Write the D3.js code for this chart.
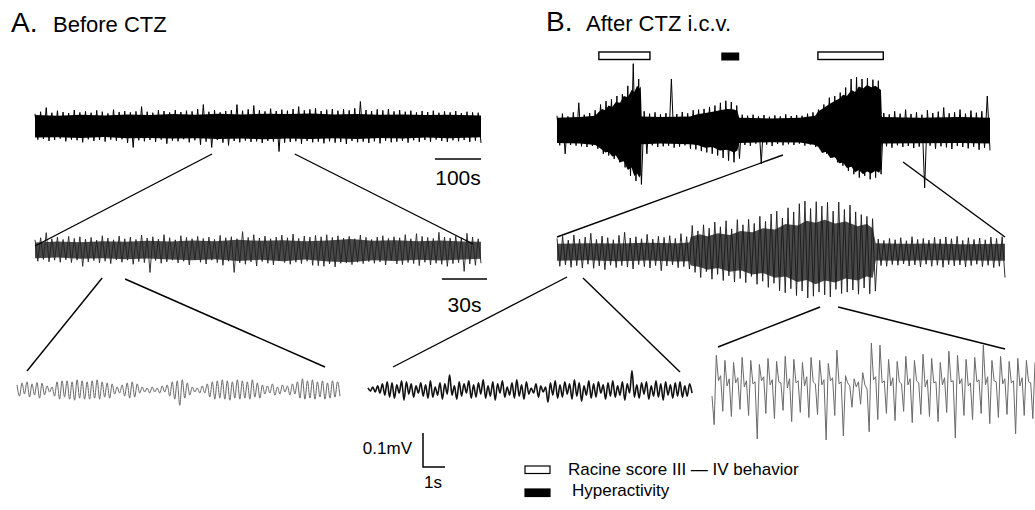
<!DOCTYPE html>
<meta charset="utf-8">
<title>EEG before and after CTZ</title>
<style>
  html, body { margin: 0; background: #fff; }
  svg { display: block; font-family: "Liberation Sans", Arial, sans-serif; }
</style>
<body>
<script src="https://d3js.org/d3.v7.min.js"></script>
<script>

// ---- data: EEG traces, microvolts, alternating peaks / troughs ----
var a1Trace = [
  36,-40, 42,-38, 54,-44, 39,-41, 45,-37,
  41,-45, 38,-40, 47,-42, 40,-48, 43,-39,
  39,-44, 46,-41, 42,-46, 37,-40, 48,-43,
  41,-39, 44,-50, 40,-63, 43,-42, 57,-45,
  42,-41, 39,-47, 46,-40, 44,-52, 40,-43,
  47,-45, 41,-39, 45,-48, 43,-42, 50,-55,
  63,-46, 42,-63, 46,-41, 40,-49, 44,-57,
  47,-44, 63,-48, 45,-43, 49,-47, 60,-45,
  46,-50, 43,-44, 51,-46, 44,-75, 48,-49,
  45,-47, 50,-45, 57,-52, 46,-44, 49,-48,
  52,-46, 44,-51, 48,-45, 50,-49, 45,-47,
  49,-53, 46,-44, 52,-48, 72,-46, 47,-50,
  44,-45, 49,-51, 46,-43, 50,-48, 43,-46,
  47,-44, 42,-49, 45,-42, 40,-47, 44,-41,
  41,-46, 45,-40, 39,-44, 43,-47, 40,-42,
  44,-45, 38,-41, 42,-47, 40,-43, 39,-50
];

var a2Trace = [
  30,-33, 36,-28, 51,-35, 33,-30, 38,-36,
  31,-29, 40,-37, 34,-30, 39,-48, 32,-35,
  37,-31, 29,-38, 42,-33, 35,-40, 30,-29,
  41,-36, 33,-30, 38,-42, 31,-34, 44,-37,
  35,-66, 39,-31, 32,-39, 45,-35, 36,-30,
  30,-38, 42,-33, 37,-44, 33,-29, 40,-36,
  34,-41, 38,-30, 31,-37, 43,-45, 36,-33,
  39,-66, 33,-38, 54,-42, 37,-35, 45,-47,
  35,-34, 41,-39, 33,-44, 38,-31, 44,-37,
  36,-42, 47,-36, 34,-40, 41,-33, 38,-45,
  43,-46, 39,-48, 45,-41, 37,-50, 42,-39,
  35,-38, 40,-43, 33,-36, 44,-40, 37,-34,
  31,-39, 38,-35, 42,-44, 34,-30, 39,-41,
  36,-43, 45,-37, 33,-40, 48,-46, 40,-36,
  37,-44, 34,-39, 52,-42, 38,-48, 35,-40,
  41,-37, 36,-63, 49,-41, 38,-45, 33,-39
];

var a3Trace = [
  15,-18, 21,-12, 24,-21, 18,-15, 22,-24,
  20,-14, 12,-6, 9,-18, 24,-27, 27,-21,
  27,-27, 24,-30, 30,-24, 27,-27, 24,-27,
  27,-24, 30,-27, 24,-21, 21,-24, 18,-12,
  9,-9, 15,-18, 21,-24, 24,-21, 18,-9,
  9,-6, 6,-9, 9,-6, 6,-9, 12,-6,
  15,-18, 24,-27, 27,-45, 30,-24, 21,-15,
  9,-6, 6,-9, 12,-9, 18,-21, 24,-27,
  27,-24, 30,-27, 27,-30, 24,-24, 30,-27,
  27,-24, 24,-27, 30,-21, 21,-24, 15,-12,
  12,-9, 18,-15, 9,-12, 15,-6, 12,-15,
  18,-12, 24,-24, 33,-27, 27,-24, 30,-27,
  24,-21, 27,-27, 21,-24, 27,-21, 24,-18
];

var b1Trace = [
  42,-45, 48,-70, 40,-44, 52,-46, 80,-48,
  45,-50, 50,-47, 58,-55, 75,-70, 85,-75,
  90,-85, 100,-95, 105,-110, 130,-135, 195,-150,
  150,-160, 55,-70, 48,-45, 52,-50, 46,-48,
  50,-46, 150,-52, 47,-49, 53,-45, 49,-55,
  58,-57, 60,-62, 62,-66, 68,-70, 72,-75,
  80,-82, 86,-90, 82,-95, 72,-84, 45,-44,
  42,-46, 45,-40, 40,-100, 44,-43, 39,-47,
  43,-41, 40,-45, 46,-42, 41,-44, 44,-40,
  42,-46, 48,-43, 52,-50, 60,-55, 75,-70,
  95,-80, 100,-95, 110,-105, 125,-120, 150,-130,
  155,-140, 150,-135, 152,-145, 148,-140, 145,-130,
  50,-48, 46,-52, 55,-45, 48,-50, 60,-47,
  47,-53, 52,-49, 45,-170, 58,-46, 50,-55,
  54,-48, 66,-51, 49,-56, 52,-47, 60,-50,
  48,-54, 57,-49, 51,-58, 55,-52, 100,-60
];

var b2Trace = [
  40,-42, 46,-38, 35,-45, 50,-40, 38,-47,
  44,-36, 55,-48, 37,-41, 47,-52, 42,-39,
  36,-46, 49,-40, 58,-44, 41,-50, 45,-37,
  39,-43, 52,-47, 38,-40, 46,-55, 43,-41,
  48,-38, 40,-46, 54,-43, 45,-50, 78,-60,
  62,-75, 80,-58, 70,-80, 88,-66, 74,-84,
  92,-70, 68,-88, 95,-78, 80,-90, 96,-72,
  84,-95, 105,-86, 90,-104, 112,-92, 120,-114,
  100,-120, 130,-108, 118,-128, 142,-115, 150,-135,
  128,-130, 148,-118, 135,-126, 146,-132, 120,-110,
  147,-122, 125,-118, 138,-112, 118,-124, 110,-106,
  105,-123, 98,-115, 38,-40, 34,-42, 40,-37,
  36,-39, 42,-35, 33,-41, 45,-38, 37,-44,
  40,-36, 35,-42, 43,-39, 38,-45, 44,-37,
  39,-41, 46,-38, 34,-44, 42,-40, 37,-36,
  41,-43, 36,-39, 44,-46, 40,-42, 45,-75
];

var bMidTrace = [
  6,-3, 9,-6, 12,-9, 18,-15, 24,-21,
  21,-24, 15,-9, 27,-30, 24,-12, 18,-21,
  12,-9, 21,-18, 15,-24, 27,-21, 9,-15,
  21,-27, 18,-12, 45,-15, 12,-27, 24,-18,
  18,-9, 27,-24, 15,-21, 21,-12, 30,-24,
  12,-18, 24,-30, 18,-9, 27,-21, 9,-15,
  21,-24, 30,-18, 15,-27, 24,-12, 6,-9,
  18,-21, 12,-6, 9,-36, 21,-15, 27,-24,
  15,-21, 24,-12, 18,-27, 30,-18, 21,-33,
  12,-15, 27,-24, 18,-21, 24,-9, 15,-27,
  21,-18, 27,-21, 12,-15, 24,-30, 18,-9,
  57,-21, 15,-24, 21,-12, 24,-27, 12,-18,
  27,-21, 18,-30, 24,-15, 15,-24, 21,-18,
  24,-21, 12,-18, 18,-9
];

// spike-and-wave: peak, shoulder, bump, trough per cycle
var b3Trace = [
  -15, -99,
  105, 30, 45, -60,   90, 15, 36, -75,   84, 24, 39, -54,   99, 12, 30, -72,
  90, 21, 27, -141,   78, 30, 42, -66,   96, 18, 33, -81,   87, 27, 24, -57,
  102, 9, 36, -90,    93, 24, 30, -63,   84, 15, 42, -78,   99, 27, 21, -69,
  90, 18, 33, -144,   81, 30, 39, -72,   120, 21, 27, -132, 45, 24, 15, -48,
  36, 12, 27, -39,    54, 18, 6, -120,   141, 33, 42, -84,  135, 24, 30, -66,
  93, 15, 39, -87,    87, 27, 21, -60,   102, 18, 36, -93,  90, 30, 24, -69,
  108, 12, 33, -75,   96, 24, 27, -90,   84, 18, 39, -63,   117, 27, 30, -138,
  105, 21, 36, -72,   93, 15, 24, -84,   99, 27, 33, -66,   135, 18, 42, -96,
  90, 30, 27, -78,    102, 21, 36, -69,  87, 24, 30, -126,  96, 15, 39, -72,
  90, 27, 24, -81,
  84
];

// dense core of the slow traces: [seconds, upper, lower] in microvolts
var a1Core = [
  [0, 32,-34], [50, 30,-33], [100, 33,-35], [150, 31,-32], [200, 34,-36],
  [250, 32,-35], [300, 35,-37], [350, 33,-36], [400, 36,-38], [450, 34,-37],
  [500, 36,-39], [550, 35,-37], [600, 37,-38], [650, 34,-36], [700, 35,-38],
  [750, 33,-35], [800, 34,-37], [850, 32,-34], [900, 33,-36], [970, 31,-33]
];
var a2Core = [
  [0, 22,-24], [15, 25,-22], [30, 23,-26], [45, 26,-24], [60, 24,-27],
  [75, 27,-25], [90, 25,-28], [105, 28,-30], [120, 26,-27], [135, 30,-32],
  [150, 27,-29], [165, 29,-33], [180, 26,-28], [195, 28,-34], [210, 32,-36],
  [225, 27,-30], [240, 29,-32], [255, 26,-29], [270, 28,-31], [285, 25,-28],
  [297, 24,-26]
];
var b1Core = [
  [0, 36,-38], [50, 38,-40], [83, 42,-44], [90, 52,-50], [98, 62,-58],
  [105, 58,-66], [112, 72,-64], [120, 68,-78], [128, 82,-75], [137, 80,-95],
  [145, 100,-92], [154, 96,-118], [162, 118,-110], [168, 112,-135], [174, 130,-128],
  [179, 122,-140], [182, 128,-132], [184, 40,-42], [224, 38,-40], [289, 40,-42],
  [305, 46,-44], [322, 50,-52], [338, 54,-50], [354, 58,-60], [370, 62,-58],
  [385, 60,-66], [392, 56,-60], [396, 36,-38], [463, 34,-36], [528, 36,-37],
  [561, 42,-44], [568, 55,-50], [576, 62,-68], [585, 70,-64], [594, 78,-82],
  [604, 86,-80], [613, 92,-98], [622, 104,-96], [630, 100,-112], [640, 118,-108],
  [648, 112,-124], [656, 128,-118], [665, 122,-130], [674, 132,-122], [683, 126,-128],
  [692, 130,-120], [700, 122,-126], [704, 118,-115], [706, 38,-40], [789, 36,-39],
  [876, 38,-38], [941, 36,-40]
];
var b2Core = [
  [0, 24,-26], [20, 26,-24], [40, 25,-27], [60, 27,-25], [80, 26,-28],
  [88, 28,-27], [89, 45,-40], [95, 52,-44], [100, 46,-52], [107, 55,-47],
  [115, 50,-58], [122, 62,-54], [130, 58,-66], [137, 70,-62], [145, 66,-76],
  [152, 82,-72], [160, 78,-88], [166, 92,-82], [172, 86,-95], [178, 95,-84],
  [185, 84,-90], [192, 90,-78], [200, 76,-84], [206, 82,-72], [210, 70,-76],
  [212, 26,-25], [230, 24,-26], [250, 25,-24], [270, 23,-25], [298, 24,-26]
];

// seconds covered by each trace
var durA1 = 970, durA2 = 297, durA3 = 14.7;
var durB1 = 941, durB2 = 298, durBMid = 14.7, durB3 = 14.7;

// behaviour epochs on the B overview trace (s)
var racineEpochs = [[91, 202], [567, 709]];
var hyperEpochs = [[357, 396]];

// expanded windows (s, on parent trace)
var zoomA1 = [385, 565], zoomA2 = [44.7, 60];
var zoomB1 = [491, 752], zoomB2mid = [6.7, 17.3], zoomB2spike = [175, 187];

// ---- drawing ----
var W = 1035, H = 510;
var svg = d3.select("body").append("svg")
    .attr("width", W)
    .attr("height", H);

var uvPx = 34 / 100;   // 0.1 mV bar is 34 px tall

function traceScales(t) {
  t.x = d3.scaleLinear().domain([0, t.dur]).range([t.x0, t.x1]);
  t.y = d3.scaleLinear().domain([-100, 100]).range([t.cy + 100 * uvPx, t.cy - 100 * uvPx]);
  return t;
}

function drawCore(t, core, fill) {
  var area = d3.area()
      .x(function(d) { return t.x(d[0]); })
      .y0(function(d) { return t.y(d[2]); })
      .y1(function(d) { return t.y(d[1]); });
  svg.append("path")
      .datum(core)
      .attr("d", area)
      .attr("fill", fill);
}

function drawLine(t) {
  var step = t.dur / (t.data.length - 1);
  var line = d3.line()
      .x(function(d, i) { return t.x(i * step); })
      .y(function(d) { return t.y(d); })
      .curve(t.curve || d3.curveLinear);
  svg.append("path")
      .datum(t.data)
      .attr("d", line)
      .attr("fill", "none")
      .attr("stroke", t.color)
      .attr("stroke-width", t.sw)
      .attr("stroke-linejoin", "round");
}

var A1 = traceScales({data: a1Trace, dur: durA1, x0: 35, x1: 481, cy: 126, color: "#000", sw: 1});
var A2 = traceScales({data: a2Trace, dur: durA2, x0: 35, x1: 481, cy: 250, color: "#222", sw: 0.9});
var A3 = traceScales({data: a3Trace, dur: durA3, x0: 17, x1: 340, cy: 390, color: "#6a6a6a", sw: 1, curve: d3.curveMonotoneX});
var B1 = traceScales({data: b1Trace, dur: durB1, x0: 557, x1: 990, cy: 130, color: "#000", sw: 1});
var B2 = traceScales({data: b2Trace, dur: durB2, x0: 557, x1: 1005, cy: 252, color: "#1a1a1a", sw: 0.9});
var BM = traceScales({data: bMidTrace, dur: durBMid, x0: 368, x1: 692, cy: 390, color: "#111", sw: 1.6, curve: d3.curveMonotoneX});
var B3 = traceScales({data: b3Trace, dur: durB3, x0: 712, x1: 1035, cy: 391, color: "#6a6a6a", sw: 1});

drawCore(A1, a1Core, "#000");
drawCore(A2, a2Core, "#4a4a4a");
drawCore(B1, b1Core, "#000");
drawCore(B2, b2Core, "#4a4a4a");
[A1, A2, A3, B1, B2, BM, B3].forEach(drawLine);

// connector lines from an expanded window to the trace below
function connect(parent, win, yTop, ends) {
  [0, 1].forEach(function(k) {
    svg.append("line")
        .attr("x1", parent.x(win[k])).attr("y1", yTop[k])
        .attr("x2", ends[k][0]).attr("y2", ends[k][1])
        .attr("stroke", "#000").attr("stroke-width", 1.4);
  });
}
connect(A1, zoomA1, [154, 154], [[35, 246], [473, 244]]);
connect(A2, zoomA2, [278, 279], [[27, 371], [325, 367]]);
connect(B1, zoomB1, [155, 162], [[557, 237], [1005, 237]]);
connect(B2, zoomB2mid, [277, 278], [[393, 367], [680, 372]]);
connect(B2, zoomB2spike, [307, 307], [[718, 347], [1005, 349]]);

// time scale bars
function hbar(tr, t0, t1, y) {
  svg.append("line")
      .attr("x1", tr.x(t0)).attr("x2", tr.x(t1))
      .attr("y1", y).attr("y2", y)
      .attr("stroke", "#000").attr("stroke-width", 1.5);
}
hbar(A1, durA1 - 100, durA1, 159);
hbar(A2, 271, 301, 279);

svg.append("text").attr("x", (A1.x(durA1 - 100) + A1.x(durA1)) / 2).attr("y", 185)
    .attr("text-anchor", "middle").attr("font-size", 21).text("100s");
svg.append("text").attr("x", (A2.x(271) + A2.x(301)) / 2).attr("y", 312)
    .attr("text-anchor", "middle").attr("font-size", 21).text("30s");

// 0.1 mV / 1 s bar for the fast traces
var secPx = A3.x(1) - A3.x(0);
var mvPx = A3.y(0) - A3.y(100);
var bx = 423, by = 467;
svg.append("path")
    .attr("d", "M" + bx + "," + (by - mvPx) + "V" + by + "H" + (bx + secPx))
    .attr("fill", "none").attr("stroke", "#000").attr("stroke-width", 1.5);
svg.append("text").attr("x", bx - 11).attr("y", 454)
    .attr("text-anchor", "end").attr("font-size", 17).text("0.1mV");
svg.append("text").attr("x", bx + 1).attr("y", 488)
    .attr("font-size", 17).text("1s");

// behaviour bars above B
racineEpochs.forEach(function(e) {
  svg.append("rect")
      .attr("x", B1.x(e[0])).attr("y", 52)
      .attr("width", B1.x(e[1]) - B1.x(e[0])).attr("height", 7.5)
      .attr("fill", "#fff").attr("stroke", "#000").attr("stroke-width", 1.4);
});
hyperEpochs.forEach(function(e) {
  svg.append("rect")
      .attr("x", B1.x(e[0])).attr("y", 52.5)
      .attr("width", B1.x(e[1]) - B1.x(e[0])).attr("height", 8)
      .attr("fill", "#000");
});

// panel titles
svg.append("text").attr("x", 11).attr("y", 32).attr("font-size", 28).text("A.");
svg.append("text").attr("x", 53).attr("y", 32).attr("font-size", 22).text("Before CTZ");
svg.append("text").attr("x", 546).attr("y", 31).attr("font-size", 28).text("B.");
svg.append("text").attr("x", 586).attr("y", 31).attr("font-size", 22).text("After CTZ i.c.v.");

// legend
var legend = [
  {label: "Racine score III \u2014 IV behavior", fill: "#fff", y: 466, ty: 475, tx: 568},
  {label: "Hyperactivity", fill: "#000", y: 489, ty: 496, tx: 572}
];
legend.forEach(function(l) {
  svg.append("rect")
      .attr("x", 525).attr("y", l.y).attr("width", 25).attr("height", 7.5)
      .attr("fill", l.fill).attr("stroke", "#000").attr("stroke-width", 1.2);
  svg.append("text").attr("x", l.tx).attr("y", l.ty)
      .attr("font-size", 17).text(l.label);
});

</script>
</body>
